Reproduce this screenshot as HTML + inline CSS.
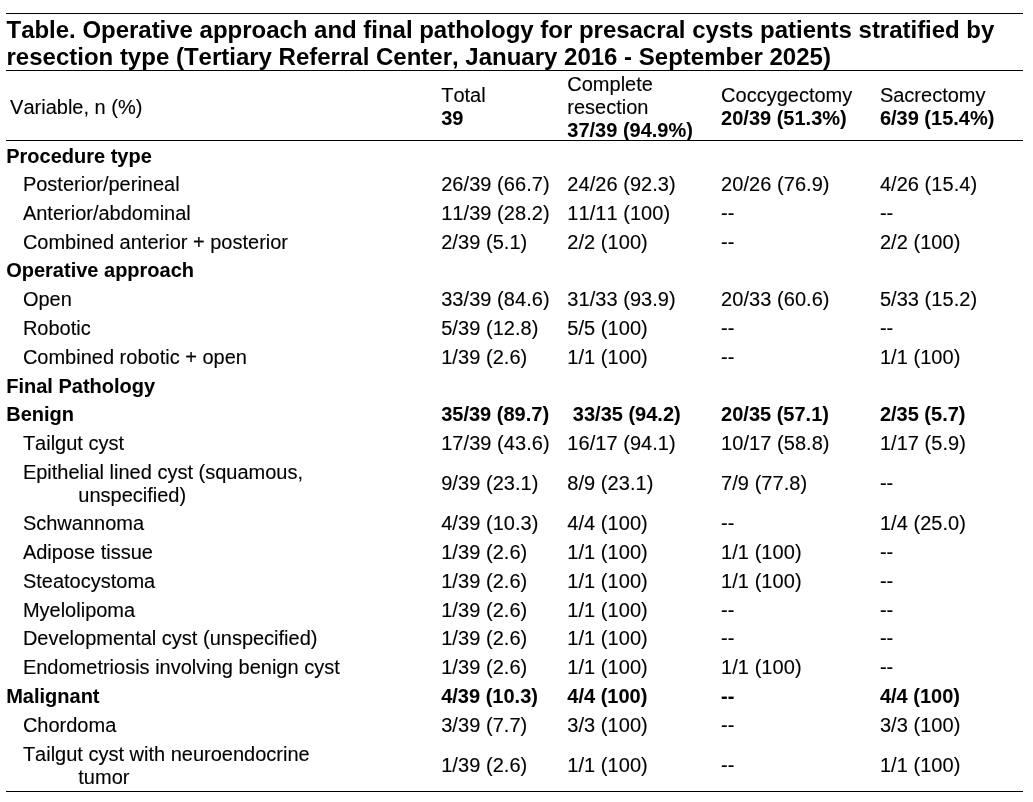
<!DOCTYPE html>
<html lang="en">
<head>
<meta charset="utf-8">
<title>Table. Operative approach and final pathology</title>
<style>
html,body{margin:0;padding:0;background:#fff;}
body{font-kerning:none;width:1033px;height:802px;position:relative;overflow:hidden;font-family:"Liberation Sans",Arial,sans-serif;color:#000;}
.t{position:absolute;white-space:nowrap;font-size:20px;line-height:23px;height:23px;}
.t{-webkit-text-stroke:0.12px #000;}
.b{font-weight:bold;-webkit-text-stroke:0.06px #000;}
.d{letter-spacing:0.05px;}
.b.d{letter-spacing:0;}
.hl{position:absolute;left:6px;width:1017px;height:1px;background:#000;}
.title{position:absolute;left:6.5px;top:16px;font-size:24px;line-height:27px;font-weight:bold;white-space:nowrap;}
</style>
</head>
<body>
<div class="hl" style="top:13px"></div>
<div class="title"><span style="letter-spacing:-0.02px">Table. Operative approach and final pathology for presacral cysts patients stratified by</span><br>resection type (Tertiary Referral Center, January 2016 - September 2025)</div>
<div class="hl" style="top:70px"></div>

<div class="t" style="left:10.1px;top:96px">Variable, n (%)</div>
<div class="t" style="left:441.2px;top:84px">Total</div>
<div class="t b" style="left:441.2px;top:107px">39</div>
<div class="t" style="left:567.3px;top:73px">Complete</div>
<div class="t" style="left:567.3px;top:96px">resection</div>
<div class="t b" style="left:567.3px;top:119px">37/39 (94.9%)</div>
<div class="t" style="left:721.1px;top:84px">Coccygectomy</div>
<div class="t b" style="left:721.1px;top:107px">20/39 (51.3%)</div>
<div class="t" style="left:879.9px;top:84px">Sacrectomy</div>
<div class="t b" style="left:879.9px;top:107px">6/39 (15.4%)</div>
<div class="hl" style="top:140px"></div>
<div class="t b" style="left:6.2px;top:145px">Procedure type</div>
<div class="t" style="left:22.9px;top:173px">Posterior/perineal</div>
<div class="t d" style="left:441.2px;top:173px">26/39 (66.7)</div>
<div class="t d" style="left:567.3px;top:173px">24/26 (92.3)</div>
<div class="t d" style="left:721.1px;top:173px">20/26 (76.9)</div>
<div class="t d" style="left:879.9px;top:173px">4/26 (15.4)</div>
<div class="t" style="left:22.9px;top:202px">Anterior/abdominal</div>
<div class="t d" style="left:441.2px;top:202px">11/39 (28.2)</div>
<div class="t d" style="left:567.3px;top:202px">11/11 (100)</div>
<div class="t d" style="left:721.1px;top:202px">--</div>
<div class="t d" style="left:879.9px;top:202px">--</div>
<div class="t" style="left:22.9px;top:231px">Combined anterior + posterior</div>
<div class="t d" style="left:441.2px;top:231px">2/39 (5.1)</div>
<div class="t d" style="left:567.3px;top:231px">2/2 (100)</div>
<div class="t d" style="left:721.1px;top:231px">--</div>
<div class="t d" style="left:879.9px;top:231px">2/2 (100)</div>
<div class="t b" style="left:6.2px;top:259px">Operative approach</div>
<div class="t" style="left:22.9px;top:288px">Open</div>
<div class="t d" style="left:441.2px;top:288px">33/39 (84.6)</div>
<div class="t d" style="left:567.3px;top:288px">31/33 (93.9)</div>
<div class="t d" style="left:721.1px;top:288px">20/33 (60.6)</div>
<div class="t d" style="left:879.9px;top:288px">5/33 (15.2)</div>
<div class="t" style="left:22.9px;top:317px">Robotic</div>
<div class="t d" style="left:441.2px;top:317px">5/39 (12.8)</div>
<div class="t d" style="left:567.3px;top:317px">5/5 (100)</div>
<div class="t d" style="left:721.1px;top:317px">--</div>
<div class="t d" style="left:879.9px;top:317px">--</div>
<div class="t" style="left:22.9px;top:346px">Combined robotic + open</div>
<div class="t d" style="left:441.2px;top:346px">1/39 (2.6)</div>
<div class="t d" style="left:567.3px;top:346px">1/1 (100)</div>
<div class="t d" style="left:721.1px;top:346px">--</div>
<div class="t d" style="left:879.9px;top:346px">1/1 (100)</div>
<div class="t b" style="left:6.2px;top:375px">Final Pathology</div>
<div class="t b" style="left:6.2px;top:403px">Benign</div>
<div class="t b d" style="left:441.2px;top:403px">35/39 (89.7)</div>
<div class="t b d" style="left:567.3px;top:403px">&nbsp;33/35 (94.2)</div>
<div class="t b d" style="left:721.1px;top:403px">20/35 (57.1)</div>
<div class="t b d" style="left:879.9px;top:403px">2/35 (5.7)</div>
<div class="t" style="left:22.9px;top:432px">Tailgut cyst</div>
<div class="t d" style="left:441.2px;top:432px">17/39 (43.6)</div>
<div class="t d" style="left:567.3px;top:432px">16/17 (94.1)</div>
<div class="t d" style="left:721.1px;top:432px">10/17 (58.8)</div>
<div class="t d" style="left:879.9px;top:432px">1/17 (5.9)</div>
<div class="t" style="left:22.9px;top:461px">Epithelial lined cyst (squamous,</div>
<div class="t" style="left:78.3px;top:484px">unspecified)</div>
<div class="t d" style="left:441.2px;top:472px">9/39 (23.1)</div>
<div class="t d" style="left:567.3px;top:472px">8/9 (23.1)</div>
<div class="t d" style="left:721.1px;top:472px">7/9 (77.8)</div>
<div class="t d" style="left:879.9px;top:472px">--</div>
<div class="t" style="left:22.9px;top:512px">Schwannoma</div>
<div class="t d" style="left:441.2px;top:512px">4/39 (10.3)</div>
<div class="t d" style="left:567.3px;top:512px">4/4 (100)</div>
<div class="t d" style="left:721.1px;top:512px">--</div>
<div class="t d" style="left:879.9px;top:512px">1/4 (25.0)</div>
<div class="t" style="left:22.9px;top:541px">Adipose tissue</div>
<div class="t d" style="left:441.2px;top:541px">1/39 (2.6)</div>
<div class="t d" style="left:567.3px;top:541px">1/1 (100)</div>
<div class="t d" style="left:721.1px;top:541px">1/1 (100)</div>
<div class="t d" style="left:879.9px;top:541px">--</div>
<div class="t" style="left:22.9px;top:570px">Steatocystoma</div>
<div class="t d" style="left:441.2px;top:570px">1/39 (2.6)</div>
<div class="t d" style="left:567.3px;top:570px">1/1 (100)</div>
<div class="t d" style="left:721.1px;top:570px">1/1 (100)</div>
<div class="t d" style="left:879.9px;top:570px">--</div>
<div class="t" style="left:22.9px;top:599px">Myelolipoma</div>
<div class="t d" style="left:441.2px;top:599px">1/39 (2.6)</div>
<div class="t d" style="left:567.3px;top:599px">1/1 (100)</div>
<div class="t d" style="left:721.1px;top:599px">--</div>
<div class="t d" style="left:879.9px;top:599px">--</div>
<div class="t" style="left:22.9px;top:627px">Developmental cyst (unspecified)</div>
<div class="t d" style="left:441.2px;top:627px">1/39 (2.6)</div>
<div class="t d" style="left:567.3px;top:627px">1/1 (100)</div>
<div class="t d" style="left:721.1px;top:627px">--</div>
<div class="t d" style="left:879.9px;top:627px">--</div>
<div class="t" style="left:22.9px;top:656px">Endometriosis involving benign cyst</div>
<div class="t d" style="left:441.2px;top:656px">1/39 (2.6)</div>
<div class="t d" style="left:567.3px;top:656px">1/1 (100)</div>
<div class="t d" style="left:721.1px;top:656px">1/1 (100)</div>
<div class="t d" style="left:879.9px;top:656px">--</div>
<div class="t b" style="left:6.2px;top:685px">Malignant</div>
<div class="t b d" style="left:441.2px;top:685px">4/39 (10.3)</div>
<div class="t b d" style="left:567.3px;top:685px">4/4 (100)</div>
<div class="t b d" style="left:721.1px;top:685px">--</div>
<div class="t b d" style="left:879.9px;top:685px">4/4 (100)</div>
<div class="t" style="left:22.9px;top:714px">Chordoma</div>
<div class="t d" style="left:441.2px;top:714px">3/39 (7.7)</div>
<div class="t d" style="left:567.3px;top:714px">3/3 (100)</div>
<div class="t d" style="left:721.1px;top:714px">--</div>
<div class="t d" style="left:879.9px;top:714px">3/3 (100)</div>
<div class="t" style="left:22.9px;top:743px">Tailgut cyst with neuroendocrine</div>
<div class="t" style="left:78.3px;top:766px">tumor</div>
<div class="t d" style="left:441.2px;top:754px">1/39 (2.6)</div>
<div class="t d" style="left:567.3px;top:754px">1/1 (100)</div>
<div class="t d" style="left:721.1px;top:754px">--</div>
<div class="t d" style="left:879.9px;top:754px">1/1 (100)</div>
<div class="hl" style="top:791px"></div>
</body>
</html>
